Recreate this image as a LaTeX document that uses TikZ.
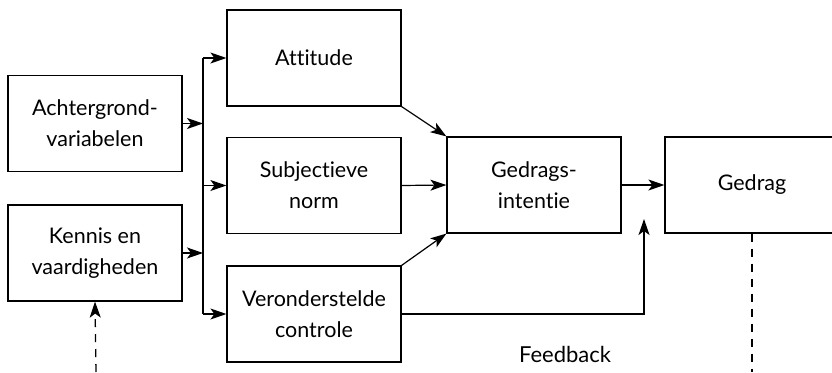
\documentclass[tikz,border=0pt]{standalone}
\usepackage{fontspec}
\setmainfont{Lato}[Ligatures=NoCommon]
\usetikzlibrary{arrows.meta}
\begin{document}
\begin{tikzpicture}[x=1pt,y=-1pt,
  box/.style={draw,line width=1.2pt,minimum width=174pt,minimum height=96pt,inner sep=0pt,align=center,font=\fontsize{21.5}{31}\selectfont},
  tip/.style={-{Stealth[length=16pt,width=11pt,inset=4pt]}},
  conn/.style={line width=1.2pt,tip},
  plain/.style={line width=1.2pt},
  dashline/.style={line width=1.3pt,dash pattern=on 8pt off 7pt}]
\useasboundingbox (0,0) rectangle (832,372);
\node[box] (A) at (95,123.5) {Achtergrond-\\variabelen};
\node[box] (K) at (95,253) {Kennis en\\vaardigheden};
\node[box] (At) at (314,58) {Attitude};
\node[box] (S) at (314,185.5) {Subjectieve\\norm};
\node[box] (V) at (314,314) {Veronderstelde\\controle};
\node[box] (GI) at (534,185) {Gedrags-\\intentie};
\node[box,text depth=4pt] (G) at (752,185) {Gedrag};
\node[font=\fontsize{22}{26}\selectfont] (F) at (565,354) {Feedback};
\coordinate (b1) at (203,58);
\coordinate (b2) at (203,185.5);
\coordinate (b3) at (203,314);
\coordinate (ba) at (203,123.5);
\coordinate (bk) at (203,253);
\coordinate (c1) at (644,314);
\coordinate (c2) at (644,219);
\coordinate (d1) at (752,372);
\coordinate (d2) at (96,372);
\draw[plain] (b1) -- (b3);
\draw[conn] (A.east) -- (ba);
\draw[conn] (K.east) -- (bk);
\draw[conn] (b1) -- (At.west);
\draw[conn] (b2) -- (S.west);
\draw[conn] (b3) -- (V.west);
\draw[conn] (At.south east) -- (GI.north west);
\draw[conn] (S.east) -- (GI.west);
\draw[conn] (V.north east) -- (GI.south west);
\draw[conn] (GI.east) -- (G.west);
\draw[conn] (V.east) -- (c1) -- (c2);
\draw[dashline] (G.south) -- (d1);
\draw[dashline,tip] (d2) -- (K.south);
\end{tikzpicture}
\end{document}
